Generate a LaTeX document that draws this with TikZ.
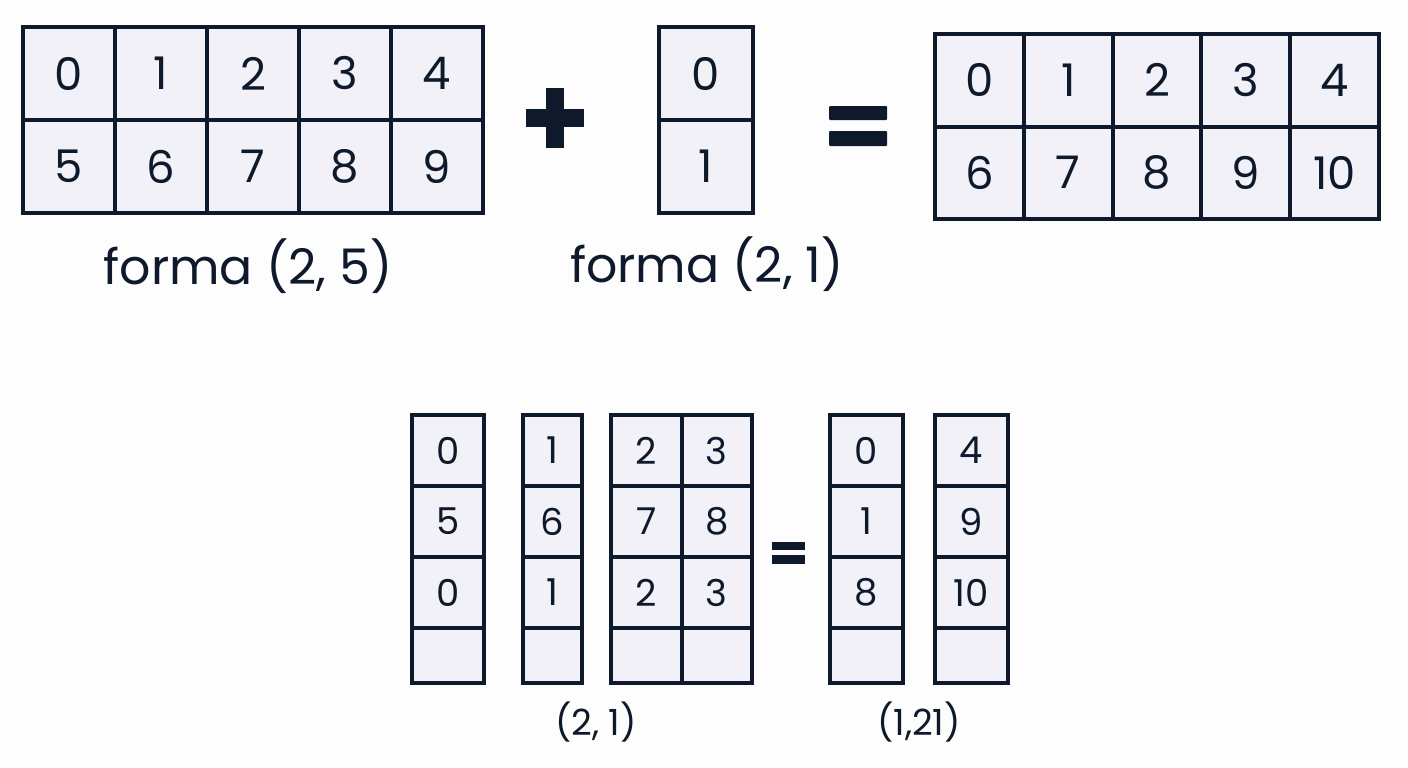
\documentclass[tikz,border=0pt]{standalone}
\usepackage{fontspec}
\setmainfont{Poppins}
\definecolor{ink}{HTML}{0E1A2B}
\definecolor{cellbg}{HTML}{F1F1F7}
\definecolor{paper}{HTML}{FDFDFE}
\tikzset{
  cell/.style={draw=ink, fill=cellbg, line width=4pt, inner sep=0pt, anchor=center, text=ink},
  bigcell/.style={cell, font=\fontsize{45}{50}\selectfont},
  smallcell/.style={cell, font=\fontsize{37}{42}\selectfont},
  biglabel/.style={inner sep=0pt, text=ink, font=\fontsize{49}{55}\selectfont},
  smalllabel/.style={inner sep=0pt, text=ink, font=\fontsize{36}{42}\selectfont},
  symbol/.style={fill=ink}
}
\begin{document}
\begin{tikzpicture}[x=1pt,y=-1pt]
\useasboundingbox (0,0) rectangle (1408,768);
\fill[paper] (0,0) rectangle (1408,768);

% top-left grid (2,5)
\foreach \t [count=\i from 0] in {0,1,2,3,4} {
  \node[bigcell, minimum width=92pt, minimum height=93pt] (a0\i) at ({69+92*\i},73.5) {\t};
}
\foreach \t [count=\i from 0] in {5,6,7,8,9} {
  \node[bigcell, minimum width=92pt, minimum height=93pt] (a1\i) at ({69+92*\i},166.5) {\t};
}
\node[biglabel] (la) at (248,266) {forma (2, 5)};

% plus
\fill[symbol] (546,88) rectangle (564,148);
\fill[symbol] (526,109) rectangle (584,127);

% middle grid (2,1)
\node[bigcell, minimum width=94pt, minimum height=93pt] (b0) at (706,73.5) {0};
\node[bigcell, minimum width=94pt, minimum height=93pt] (b1) at (706,166.5) {1};
\node[biglabel] (lb) at (707,264) {forma (2, 1)};

% equals
\fill[symbol, rounded corners=1pt] (829,106) rectangle (887,120);
\fill[symbol, rounded corners=1pt] (829,131) rectangle (887,146);

% right grid
\foreach \t [count=\i from 0] in {0,1,2,3,4} {
  \node[bigcell, minimum width=88.8pt, minimum height=92.5pt] (c0\i) at ({979.4+88.8*\i},80.25) {\t};
}
\foreach \t [count=\i from 0] in {6,7,8,9,10} {
  \node[bigcell, minimum width=88.8pt, minimum height=92.5pt] (c1\i) at ({979.4+88.8*\i},172.75) {\t};
}

% bottom columns
\newcommand{\colx}[4]{% name, cx, width, entries
  \foreach \t [count=\j from 0] in {#4} {
    \node[smallcell, minimum width=#3pt, minimum height=71pt] (#1\j) at (#2,{450.5+71*\j}) {\t};
  }
  \node[smallcell, minimum width=#3pt, minimum height=55pt] (#1e) at (#2,655.5) {};
}
\colx{pa}{448}{72}{0,5,0}
\colx{pb}{552.5}{59}{1,6,1}
\colx{pc}{646.25}{70.5}{2,7,2}
\colx{pd}{716.75}{70.5}{3,8,3}
\colx{pe}{866.5}{73}{0,1,8}
\colx{pf}{971.5}{73}{4,9,10}

\fill[symbol] (772,542) rectangle (805,550);
\fill[symbol] (772,555) rectangle (805,564);

\node[smalllabel] (lc) at (596,722) {(2, 1)};
\node[smalllabel] (ld) at (919,722) {(1,21)};
\end{tikzpicture}
\end{document}
